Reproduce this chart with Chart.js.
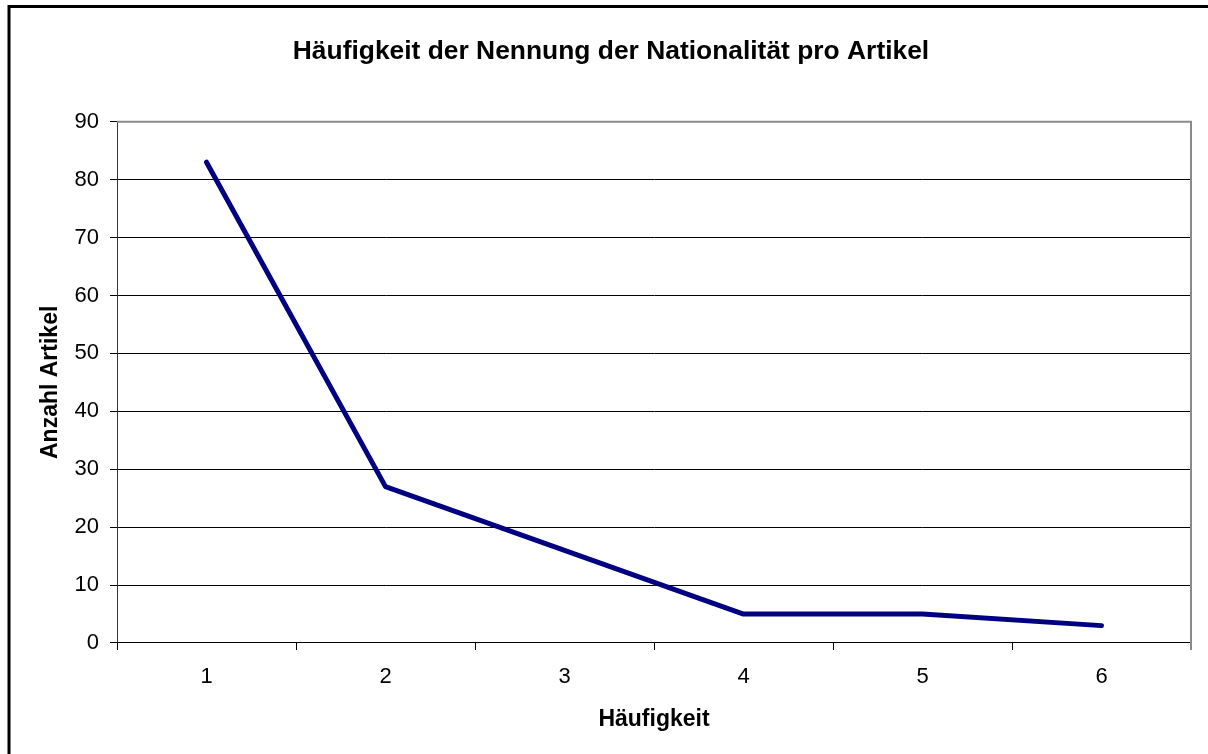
<!DOCTYPE html>
<html>
<head>
<meta charset="utf-8">
<script src="https://cdn.jsdelivr.net/npm/chart.js@4/dist/chart.umd.min.js"></script>
<style>
  html, body { margin: 0; padding: 0; background: #fff; }
  #wrap { width: 1208px; height: 754px; position: relative; }
</style>
</head>
<body>
<div id="wrap"><canvas id="c" width="1208" height="754"></canvas></div>
<script>
const categories = ["1", "2", "3", "4", "5", "6"];
const anzahlArtikel = [83, 27, 16, 5, 5, 3];
const yTicks = [0, 10, 20, 30, 40, 50, 60, 70, 80, 90];

const FONT = "'Liberation Sans', Arial, sans-serif";

const frame = {
  id: 'frame',
  beforeDraw(chart) {
    const ctx = chart.ctx;
    ctx.save();
    ctx.fillStyle = '#fff';
    ctx.fillRect(0, 0, chart.width, chart.height);
    ctx.strokeStyle = '#000';
    ctx.lineWidth = 3;
    ctx.strokeRect(9, 6.5, chart.width + 20, chart.height + 20);
    ctx.restore();
  },
  afterDraw(chart) {
    const a = chart.chartArea;
    const ctx = chart.ctx;
    ctx.save();
    ctx.strokeStyle = '#8a8a8a';
    ctx.lineWidth = 2;
    ctx.beginPath();
    ctx.moveTo(a.left, a.top);
    ctx.lineTo(a.right, a.top);
    ctx.lineTo(a.right, a.bottom + 7);
    ctx.stroke();
    ctx.restore();
  }
};

new Chart(document.getElementById('c'), {
  type: 'line',
  data: {
    labels: categories,
    datasets: [{
      data: anzahlArtikel,
      borderColor: '#000080',
      borderWidth: 5,
      borderCapStyle: 'round',
      borderJoinStyle: 'round',
      pointRadius: 0,
      tension: 0,
      fill: false
    }]
  },
  options: {
    responsive: false,
    animation: false,
    devicePixelRatio: 1,
    layout: { padding: { left: 31, right: 17, top: 0, bottom: 0 } },
    plugins: {
      legend: { display: false },
      tooltip: { enabled: false },
      title: {
        display: true,
        text: 'Häufigkeit der Nennung der Nationalität pro Artikel',
        color: '#000',
        font: { family: FONT, size: 26.4, weight: 'bold', lineHeight: 1.2 },
        padding: { top: 36, bottom: 54 }
      }
    },
    scales: {
      x: {
        type: 'category',
        offset: true,
        afterFit(s) { s.height = 111; },
        grid: {
          offset: true,
          drawOnChartArea: false,
          drawTicks: true,
          tickLength: 7,
          color: '#000',
          lineWidth: 1
        },
        border: { color: '#000', width: 1 },
        ticks: {
          color: '#000',
          padding: 14,
          maxRotation: 0,
          font: { family: FONT, size: 22 }
        },
        title: {
          display: true,
          text: 'Häufigkeit',
          color: '#000',
          font: { family: FONT, size: 23, weight: 'bold', lineHeight: 1.2 },
          padding: { top: 21, bottom: 21 }
        }
      },
      y: {
        min: 0,
        max: 90,
        afterFit(s) { s.width = 86; },
        afterBuildTicks(s) { s.ticks = yTicks.map(v => ({ value: v })); },
        grid: {
          color: '#000',
          lineWidth: 1,
          tickLength: 7
        },
        border: { color: '#333', width: 1 },
        ticks: {
          color: '#000',
          padding: 11,
          font: { family: FONT, size: 22 }
        },
        title: {
          display: true,
          text: 'Anzahl Artikel',
          color: '#000',
          font: { family: FONT, size: 23, weight: 'bold', lineHeight: 1.2 },
          padding: { top: 6, bottom: 6 }
        }
      }
    }
  },
  plugins: [frame]
});
</script>
</body>
</html>
